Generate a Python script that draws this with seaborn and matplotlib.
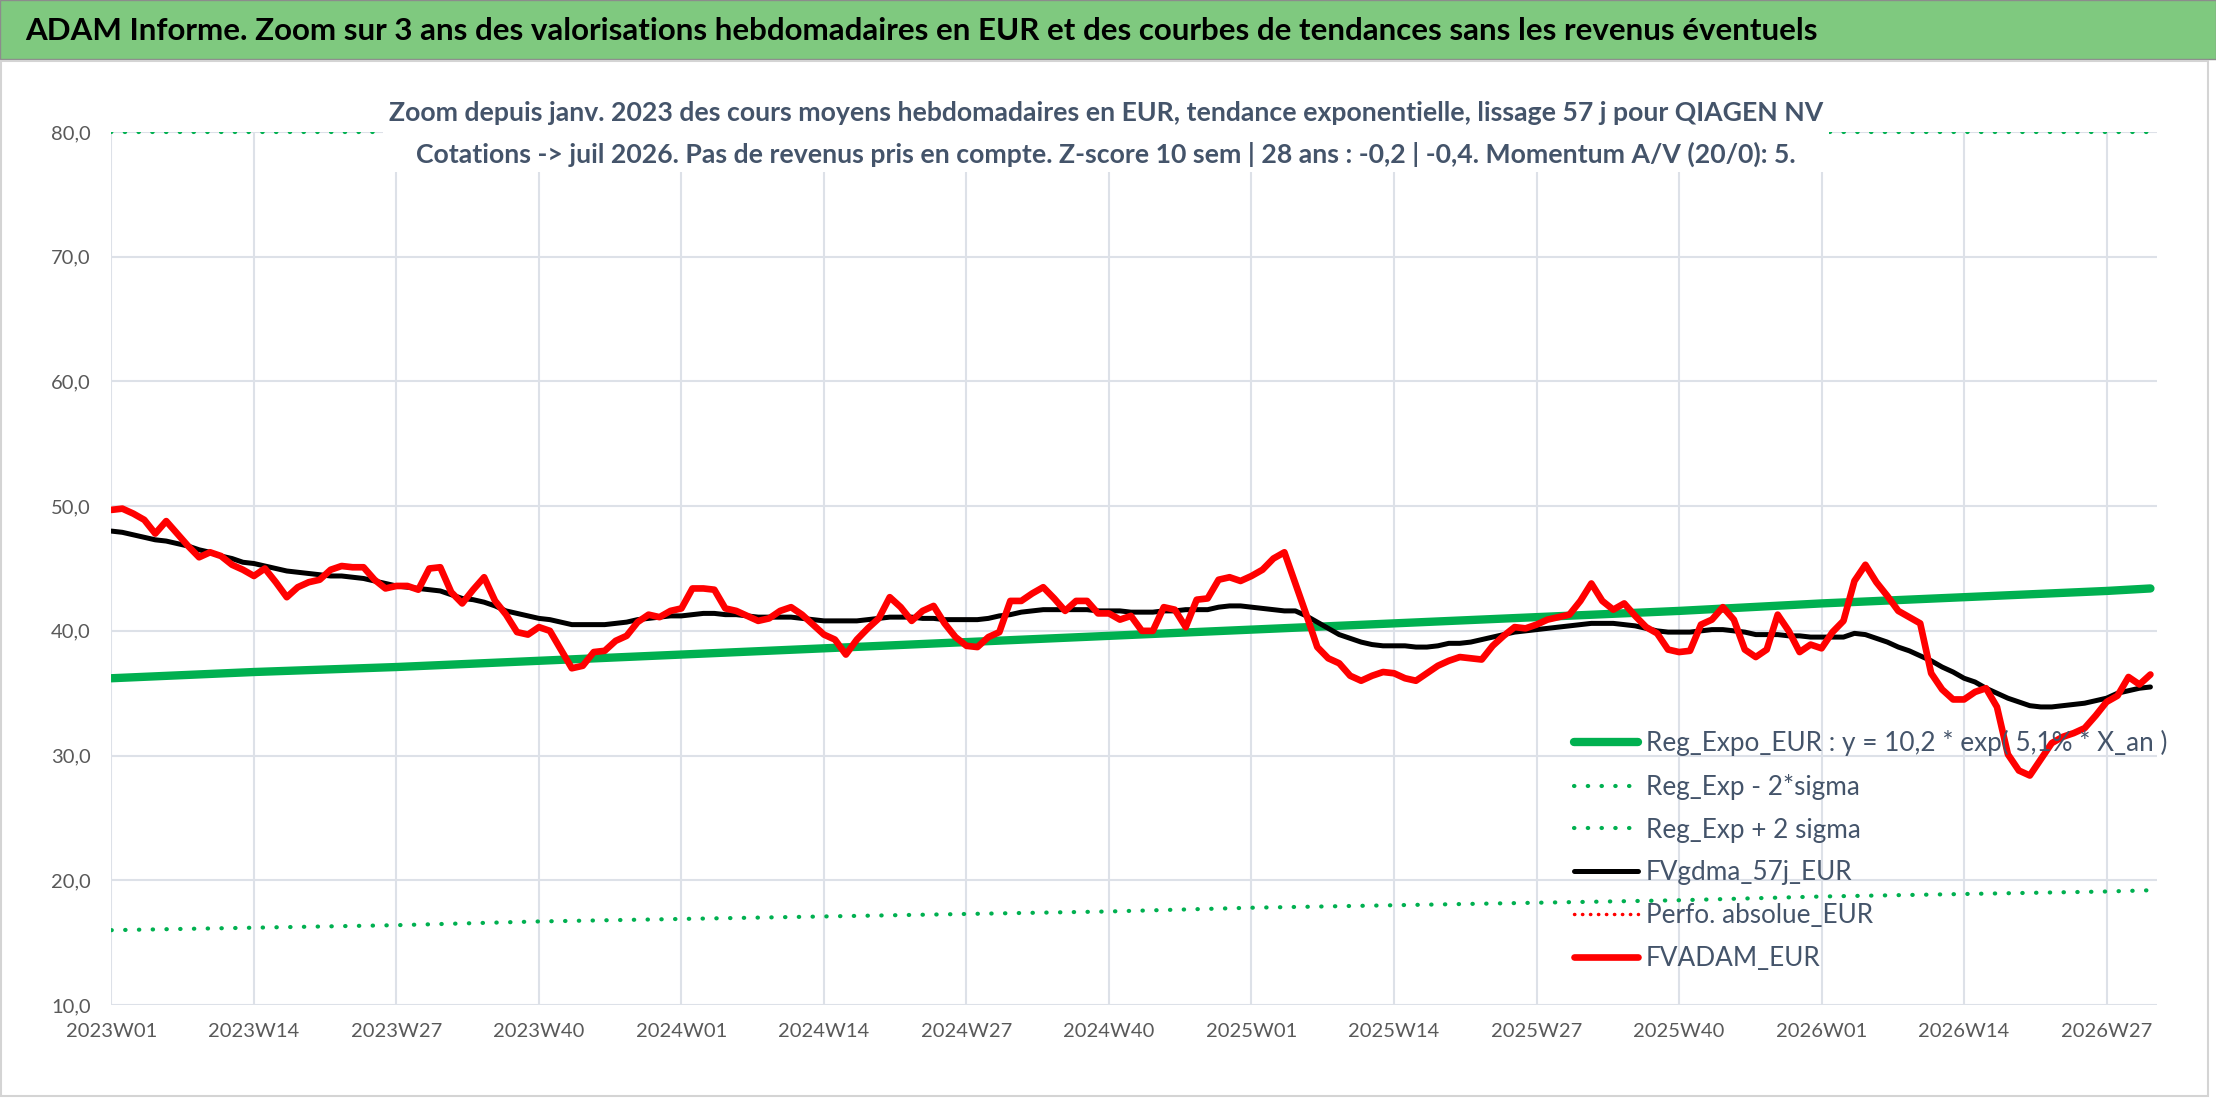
import matplotlib
matplotlib.use('Agg')
import pandas as pd
import matplotlib.pyplot as plt
from matplotlib.lines import Line2D
from matplotlib.patches import Rectangle
import seaborn as sns

# weekly categories 2023W01 -> 2026W31
weeks = [f'{y}W{w:02d}' for y, n in [(2023, 52), (2024, 52), (2025, 52), (2026, 31)] for w in range(1, n + 1)]

# FVADAM_EUR (weekly average price, red)
fvadam = [49.7, 49.8, 49.4, 48.9, 47.8, 48.8, 47.8, 46.8, 45.9, 46.3, 46.0, 45.3, 44.9, 44.4, 45.0, 43.9,
          42.7, 43.5, 43.9, 44.1, 44.9, 45.2, 45.1, 45.1, 44.1, 43.4, 43.6, 43.6, 43.3, 45.0, 45.1, 43.1,
          42.2, 43.3, 44.3, 42.4, 41.3, 39.9, 39.7, 40.3, 40.0, 38.5, 37.0, 37.2, 38.3, 38.4, 39.2, 39.6,
          40.7, 41.3, 41.1, 41.6, 41.8, 43.4, 43.4, 43.3, 41.8, 41.6, 41.2, 40.8, 41.0, 41.6, 41.9, 41.3,
          40.5, 39.7, 39.3, 38.1, 39.3, 40.2, 41.0, 42.7, 41.9, 40.8, 41.6, 42.0, 40.6, 39.5, 38.8, 38.7,
          39.5, 39.9, 42.4, 42.4, 43.0, 43.5, 42.6, 41.6, 42.4, 42.4, 41.4, 41.4, 40.9, 41.2, 40.0, 40.0,
          41.9, 41.7, 40.3, 42.5, 42.6, 44.1, 44.3, 44.0, 44.4, 44.9, 45.8, 46.3, 43.8, 41.3, 38.7, 37.8,
          37.4, 36.4, 36.0, 36.4, 36.7, 36.6, 36.2, 36.0, 36.6, 37.2, 37.6, 37.9, 37.8, 37.7, 38.8, 39.6,
          40.3, 40.2, 40.5, 40.9, 41.1, 41.3, 42.4, 43.8, 42.4, 41.7, 42.2, 41.2, 40.3, 39.8, 38.5, 38.3,
          38.4, 40.5, 40.9, 41.9, 40.9, 38.5, 37.9, 38.5, 41.3, 40.0, 38.3, 38.9, 38.6, 39.9, 40.8, 44.0,
          45.3, 43.9, 42.8, 41.6, 41.1, 40.6, 36.6, 35.3, 34.5, 34.5, 35.1, 35.4, 33.9, 30.1, 28.8, 28.4,
          29.7, 31.0, 31.5, 31.8, 32.2, 33.2, 34.3, 34.8, 36.3, 35.7, 36.5]

# FVgdma_57j_EUR (smoothed, black)
fvgdma = [48.0, 47.9, 47.7, 47.5, 47.3, 47.2, 47.0, 46.8, 46.5, 46.3, 46.0, 45.8, 45.5, 45.4, 45.2, 45.0,
          44.8, 44.7, 44.6, 44.5, 44.4, 44.4, 44.3, 44.2, 44.0, 43.8, 43.6, 43.5, 43.4, 43.3, 43.2, 42.9,
          42.6, 42.5, 42.3, 42.0, 41.6, 41.4, 41.2, 41.0, 40.9, 40.7, 40.5, 40.5, 40.5, 40.5, 40.6, 40.7,
          40.9, 41.0, 41.1, 41.2, 41.2, 41.3, 41.4, 41.4, 41.3, 41.3, 41.2, 41.1, 41.1, 41.1, 41.1, 41.0,
          40.9, 40.8, 40.8, 40.8, 40.8, 40.9, 41.0, 41.1, 41.1, 41.1, 41.0, 41.0, 40.9, 40.9, 40.9, 40.9,
          41.0, 41.2, 41.3, 41.5, 41.6, 41.7, 41.7, 41.7, 41.7, 41.7, 41.6, 41.6, 41.6, 41.5, 41.5, 41.5,
          41.6, 41.6, 41.7, 41.7, 41.7, 41.9, 42.0, 42.0, 41.9, 41.8, 41.7, 41.6, 41.6, 41.2, 40.7, 40.2,
          39.7, 39.4, 39.1, 38.9, 38.8, 38.8, 38.8, 38.7, 38.7, 38.8, 39.0, 39.0, 39.1, 39.3, 39.5, 39.7,
          39.9, 40.0, 40.1, 40.2, 40.3, 40.4, 40.5, 40.6, 40.6, 40.6, 40.5, 40.4, 40.2, 40.0, 39.9, 39.9,
          39.9, 40.0, 40.1, 40.1, 40.0, 39.9, 39.7, 39.7, 39.7, 39.6, 39.6, 39.5, 39.5, 39.5, 39.5, 39.8,
          39.7, 39.4, 39.1, 38.7, 38.4, 38.0, 37.6, 37.1, 36.7, 36.2, 35.9, 35.4, 35.0, 34.6, 34.3, 34.0,
          33.9, 33.9, 34.0, 34.1, 34.2, 34.4, 34.6, 35.0, 35.2, 35.4, 35.5]

# exponential trend and bands, read at the tick weeks and last week
trend_weeks = weeks[::13] + [weeks[-1]]
reg_expo = [36.2, 36.7, 37.1, 37.6, 38.1, 38.6, 39.1, 39.6, 40.1, 40.6, 41.1, 41.6, 42.2, 42.7, 43.2, 43.4]
reg_low = [16.0, 16.2, 16.4, 16.7, 16.9, 17.1, 17.3, 17.5, 17.8, 18.0, 18.2, 18.4, 18.7, 18.9, 19.1, 19.2]
reg_high = [80.0, 80.0, 80.0, 80.0, 80.0, 80.0, 80.0, 80.0, 80.0, 80.0, 80.0, 80.0, 80.0, 80.0, 80.0, 80.0]

y_ticks = [10, 20, 30, 40, 50, 60, 70, 80]

title = ('ADAM Informe. Zoom sur 3 ans des valorisations hebdomadaires en EUR '
         'et des courbes de tendances sans les revenus éventuels')
subtitle = ('Zoom depuis janv. 2023 des cours moyens hebdomadaires en EUR, tendance exponentielle, '
            'lissage 57 j pour QIAGEN NV\n'
            'Cotations -> juil 2026. Pas de revenus pris en compte. Z-score 10 sem | 28 ans : -0,2 | -0,4. '
            'Momentum A/V (20/0): 5.')

lbl_expo = 'Reg_Expo_EUR : y = 10,2 * exp( 5,1% * X_an )'
lbl_low = 'Reg_Exp - 2*sigma'
lbl_high = 'Reg_Exp + 2 sigma'
lbl_gdma = 'FVgdma_57j_EUR'
lbl_perf = 'Perfo. absolue_EUR'
lbl_adam = 'FVADAM_EUR'

weekly = pd.DataFrame({'pos': range(len(weeks)), 'week': weeks, 'adam': fvadam, 'gdma': fvgdma})
trend = pd.DataFrame({'pos': [weeks.index(w) for w in trend_weeks], 'expo': reg_expo,
                      'low': reg_low, 'high': reg_high})

sns.set_theme(style='white')
plt.rcParams['font.family'] = ['Lato', 'DejaVu Sans']

W, H = 2216, 1102
fig = plt.figure(figsize=(W / 100, H / 100), dpi=100)

# green title bar and chart frame
fig.patches.append(Rectangle((0, 1 - 59 / H), 1, 59 / H, transform=fig.transFigure,
                             fc='#7fc97f', ec='#8c8c8c', lw=1.0, zorder=0))
fig.patches.append(Rectangle((1 / W, 1 - 1096 / H), 2207 / W, (1096 - 61) / H, transform=fig.transFigure,
                             fill=False, ec='#d4d4d4', lw=1.5, zorder=0))
fig.text(25 / W, 1 - 31 / H, title, fontsize=22.5, fontweight='bold', color='black', va='center', ha='left')

ax = fig.add_axes([111.4 / W, 1 - 1005 / H, (2157 - 111.4) / W, (1005 - 132) / H])

green = '#00b050'
dot = dict(linestyle=(0, (0.1, 3.2)), dash_capstyle='round')
sns.lineplot(data=trend, x='pos', y='low', color=green, lw=3, ax=ax, label=lbl_low, **dot)
sns.lineplot(data=trend, x='pos', y='high', color=green, lw=3, ax=ax, label=lbl_high, **dot)
sns.lineplot(data=trend, x='pos', y='expo', color=green, lw=6, ax=ax, label=lbl_expo,
             solid_capstyle='round')
sns.lineplot(data=weekly, x='pos', y='gdma', color='black', lw=3.6, ax=ax, label=lbl_gdma,
             solid_capstyle='round')
sns.lineplot(data=weekly, x='pos', y='adam', color='#ff0000', lw=4.8, ax=ax, label=lbl_adam,
             solid_capstyle='round', solid_joinstyle='round')

ax.set_xlim(0, 186.6)
ax.set_ylim(10, 80)
ax.set_xticks(range(0, len(weeks), 13))
ax.set_xticklabels(weeks[::13])
ax.set_yticks(y_ticks)
ax.set_yticklabels([f'{v:.1f}'.replace('.', ',') for v in y_ticks])
ax.set_xlabel('')
ax.set_ylabel('')
ax.grid(True, color='#dde1e8', lw=1.5)
ax.set_axisbelow(True)
for s in ax.spines.values():
    s.set_visible(False)
ax.tick_params(axis='both', length=0, labelsize=14.5, labelcolor='#595959')
ax.tick_params(axis='y', pad=15)
ax.tick_params(axis='x', pad=13)

# subtitle with white background over the chart
fig.text(1106 / W, 1 - 134 / H, subtitle, fontsize=19.2, fontweight='bold', color='#44546a',
         ha='center', va='center', multialignment='center', linespacing=1.75,
         bbox=dict(fc='white', ec='none', pad=4))

# legend, in the reference order
hd = {l.get_label(): l for l in ax.get_lines()}
perf = Line2D([], [], color='#ff0000', lw=2.5, linestyle=(0, (0.1, 2.2)), dash_capstyle='round')
handles = [hd[lbl_expo], hd[lbl_low], hd[lbl_high], hd[lbl_gdma], perf, hd[lbl_adam]]
labels = [lbl_expo, lbl_low, lbl_high, lbl_gdma, lbl_perf, lbl_adam]
leg = ax.legend(handles, labels, loc='upper left', bbox_to_anchor=(1574 / W, 1 - 730 / H),
                bbox_transform=fig.transFigure, frameon=False, fontsize=18.8, labelcolor='#44546a',
                handlelength=2.45, handletextpad=0.3, labelspacing=0.68, borderaxespad=0, borderpad=0)

fig.savefig('out.png', dpi=100)
